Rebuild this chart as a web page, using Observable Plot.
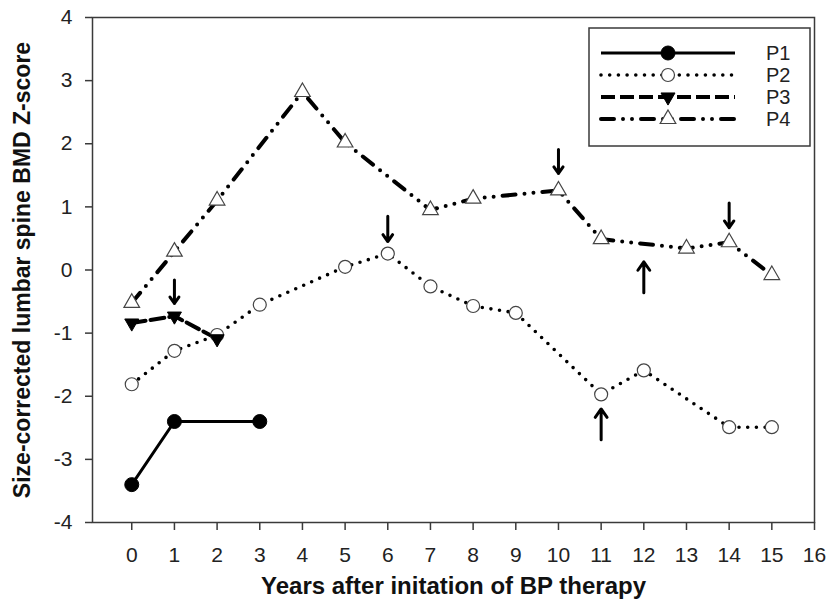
<!DOCTYPE html>
<html>
<head>
<meta charset="utf-8">
<script src="https://cdn.jsdelivr.net/npm/d3@7"></script>
<script src="https://cdn.jsdelivr.net/npm/@observablehq/plot@0.6"></script>
<style>
  html, body { margin: 0; padding: 0; background: #fff; }
  #chart { width: 828px; height: 606px; }
  svg { font-family: "Liberation Sans", Arial, sans-serif; }
</style>
</head>
<body>
<div id="chart"></div>
<script>
// ---- Data ----
const seriesNames = ["P1", "P2", "P3", "P4"];

const p1Years = [0, 1, 3];
const p1Z = [-3.4, -2.4, -2.4];

const p2Years = [0, 1, 2, 3, 5, 6, 7, 8, 9, 11, 12, 14, 15];
const p2Z = [-1.81, -1.28, -1.03, -0.55, 0.05, 0.26, -0.26, -0.57, -0.68, -1.97, -1.59, -2.49, -2.49];

const p3Years = [0, 1, 2];
const p3Z = [-0.84, -0.73, -1.09];

const p4Years = [0, 1, 2, 4, 5, 7, 8, 10, 11, 13, 14, 15];
const p4Z = [-0.52, 0.29, 1.1, 2.82, 2.02, 0.95, 1.13, 1.26, 0.49, 0.34, 0.44, -0.08];

// Arrows (annotation): x position, tail value, tip value
const arrowYears = [1, 6, 10, 14, 12, 11];
const arrowFrom = [-0.16, 0.85, 1.91, 1.06, -0.36, -2.69];
const arrowTo = [-0.53, 0.45, 1.53, 0.67, 0.13, -2.2];

const xTicks = d3.range(0, 17);
const yTicks = d3.range(-4, 5);

const xLabel = "Years after initation of BP therapy";
const yLabel = "Size-corrected lumbar spine BMD Z-score";

// ---- Build tables ----
const toRows = (xs, ys) => xs.map((x, i) => ({x, y: ys[i]}));
const p1 = toRows(p1Years, p1Z);
const p2 = toRows(p2Years, p2Z);
const p3 = toRows(p3Years, p3Z);
const p4 = toRows(p4Years, p4Z);
const arrows = arrowYears.map((x, i) => ({x, y1: arrowFrom[i], y2: arrowTo[i]}));

const axisColor = "#3a3a3a";
const textColor = "#222";

// series styles
const styles = {
  P1: {line: {stroke: "#000", strokeWidth: 3}, dot: {symbol: "circle", r: 7, fill: "#000", stroke: "#000", strokeWidth: 1}},
  P2: {line: {stroke: "#000", strokeWidth: 3.6, strokeDasharray: "0 8.7", strokeLinecap: "round"}, dot: {symbol: "circle", r: 6.5, fill: "#fff", stroke: "#444", strokeWidth: 1.2}},
  P3: {line: {stroke: "#000", strokeWidth: 4, strokeDasharray: "14 5"}, dot: {symbol: "triangle", r: 5.2, fill: "#000", stroke: "#000", strokeWidth: 1, rotate: 180}},
  P4: {line: {stroke: "#000", strokeWidth: 4, strokeDasharray: "13 9 0 9 0 9", strokeLinecap: "round"}, dot: {symbol: "triangle", r: 5.8, fill: "#fff", stroke: "#444", strokeWidth: 1.2}}
};
const tables = {P1: p1, P2: p2, P3: p3, P4: p4};

const marks = [];
for (const name of seriesNames) {
  marks.push(Plot.line(tables[name], {x: "x", y: "y", ...styles[name].line}));
}
for (const name of seriesNames) {
  marks.push(Plot.dot(tables[name], {x: "x", y: "y", ...styles[name].dot}));
}

const plot = Plot.plot({
  width: 828,
  height: 606,
  marginLeft: 92,
  marginRight: 14,
  marginTop: 17,
  marginBottom: 84,
  style: {fontFamily: "'Liberation Sans', Arial, sans-serif", background: "#fff", fontSize: "21px"},
  x: {domain: [-0.92, 16]},
  y: {domain: [-4, 4]},
  marks: [
    Plot.frame({stroke: axisColor, strokeWidth: 1.5}),
    Plot.axisX({ticks: xTicks, tickSize: 8, tickPadding: 17, fontSize: 21, stroke: axisColor, strokeWidth: 1.5, fill: textColor, label: null, tickFormat: d => d}),
    Plot.axisY({ticks: yTicks, tickSize: 7, tickPadding: 13, fontSize: 21, stroke: axisColor, strokeWidth: 1.5, fill: textColor, label: null, tickFormat: d => d}),
    Plot.text([xLabel], {text: d => d, frameAnchor: "bottom", dy: 71, fontSize: 24, fontWeight: "bold", fill: "#111"}),
    Plot.text([yLabel], {text: d => d, frameAnchor: "left", dx: -70, rotate: -90, textAnchor: "middle", lineAnchor: "middle", fontSize: 23, fontWeight: "bold", fill: "#111"}),
    ...marks,
    Plot.arrow(arrows, {x: "x", y1: "y1", y2: "y2", stroke: "#000", strokeWidth: 3, headLength: 12, headAngle: 70, bend: false})
  ]
});

document.getElementById("chart").appendChild(plot);

// ---- Legend (boxed, top right, inside plot frame) ----
const svg = d3.select(plot);
const lg = svg.append("g").attr("class", "legend").attr("text-anchor", "start");
const box = {x: 589, y: 28, w: 221, h: 118};
lg.append("rect").attr("x", box.x).attr("y", box.y).attr("width", box.w).attr("height", box.h)
  .attr("fill", "#fff").attr("stroke", axisColor).attr("stroke-width", 1.5);
const rowY = [53, 75, 97, 119];
const symbolFor = {circle: d3.symbolCircle, triangle: d3.symbolTriangle};
seriesNames.forEach((name, i) => {
  const st = styles[name];
  const y = rowY[i];
  lg.append("line").attr("x1", 601).attr("x2", 735).attr("y1", y).attr("y2", y)
    .attr("stroke", st.line.stroke).attr("stroke-width", st.line.strokeWidth)
    .attr("stroke-dasharray", st.line.strokeDasharray || null)
    .attr("stroke-linecap", st.line.strokeLinecap || null);
  const r = st.dot.r;
  lg.append("path")
    .attr("d", d3.symbol(symbolFor[st.dot.symbol], Math.PI * r * r)())
    .attr("transform", `translate(668,${y}) rotate(${st.dot.rotate || 0})`)
    .attr("fill", st.dot.fill).attr("stroke", st.dot.stroke).attr("stroke-width", st.dot.strokeWidth);
  lg.append("text").attr("x", 766).attr("y", y).attr("dy", "0.35em")
    .attr("text-anchor", "start")
    .attr("font-size", 20).attr("fill", textColor).text(name);
});
</script>
</body>
</html>
